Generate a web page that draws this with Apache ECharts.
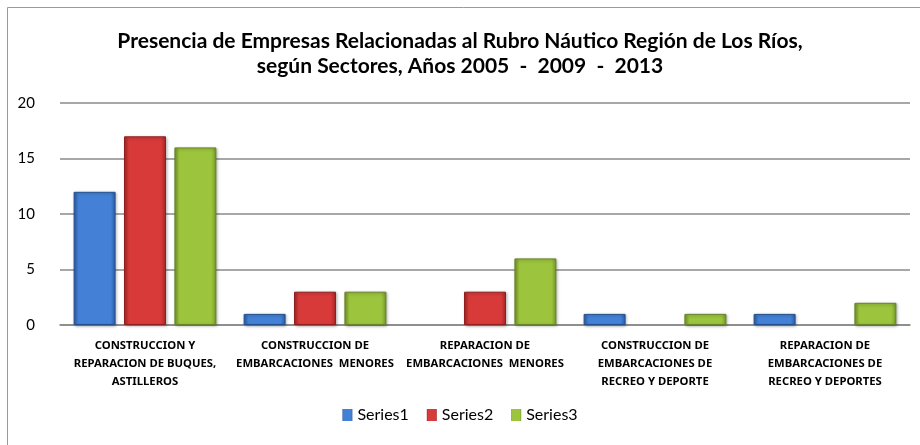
<!DOCTYPE html>
<html>
<head>
<meta charset="utf-8">
<script src="https://cdn.jsdelivr.net/npm/echarts@6/dist/echarts.min.js"></script>
<style>
  html, body { margin: 0; padding: 0; background: #fff; }
  #chart { width: 920px; height: 445px; }
</style>
</head>
<body>
<div id="chart"></div>
<script>
var categories = [
    'CONSTRUCCION Y\nREPARACION DE BUQUES,\nASTILLEROS',
    'CONSTRUCCION DE\nEMBARCACIONES  MENORES',
    'REPARACION DE\nEMBARCACIONES  MENORES',
    'CONSTRUCCION DE\nEMBARCACIONES DE\nRECREO Y DEPORTE',
    'REPARACION DE\nEMBARCACIONES DE\nRECREO Y DEPORTES'
];
var series1 = [12, 1, 0, 1, 1];
var series2 = [17, 3, 3, 0, 0];
var series3 = [16, 3, 6, 1, 2];
var seriesNames = ['Series1', 'Series2', 'Series3'];

var myChart = echarts.init(document.getElementById('chart'));

// bevelled look: dark edges, lighter middle
function bevel(edge, mid) {
    return new echarts.graphic.LinearGradient(0, 0, 1, 0, [
        { offset: 0, color: edge },
        { offset: 0.12, color: mid },
        { offset: 0.88, color: mid },
        { offset: 1, color: edge }
    ]);
}

var colors = [
    { edge: '#2c5ea6', mid: '#4481d6', border: '#24508f' },
    { edge: '#a82626', mid: '#d83a3a', border: '#8f1f1f' },
    { edge: '#77982a', mid: '#9cc43c', border: '#66842a' }
];

function makeSeries(name, data, c) {
    // zero values get no outline so nothing shows on the axis
    var items = data.map(function (v) {
        if (v === 0) {
            return { value: v, itemStyle: { borderWidth: 0, shadowBlur: 0, shadowOffsetX: 0, shadowOffsetY: 0 } };
        }
        return v;
    });
    return {
        name: name,
        type: 'bar',
        data: items,
        barWidth: 42,
        barGap: '20%',
        itemStyle: {
            color: bevel(c.edge, c.mid),
            borderColor: c.border,
            borderWidth: 1,
            shadowColor: 'rgba(0,0,0,0.3)',
            shadowBlur: 3,
            shadowOffsetX: 1,
            shadowOffsetY: 1
        }
    };
}

var option = {
    animation: false,
    title: {
        text: 'Presencia de Empresas Relacionadas al Rubro Náutico Región de Los Ríos,\nsegún Sectores, Años 2005  -  2009  -  2013',
        left: 'center',
        top: 24,
        textStyle: {
            fontFamily: 'Lato',
            fontWeight: 'bold',
            fontSize: 21,
            lineHeight: 25,
            color: '#000'
        }
    },
    legend: {
        bottom: 17,
        left: 'center',
        icon: 'rect',
        itemWidth: 10,
        itemHeight: 12,
        itemGap: 18,
        itemStyle: { shadowBlur: 0, shadowOffsetX: 0, shadowOffsetY: 0, borderWidth: 0 },
        textStyle: {
            fontFamily: 'Lato',
            fontSize: 16,
            color: '#000'
        },
        data: seriesNames
    },
    grid: {
        left: 60,
        right: 10,
        top: 103,
        bottom: 120
    },
    xAxis: {
        type: 'category',
        data: categories,
        axisTick: { show: false },
        axisLine: { lineStyle: { color: '#888', width: 1.5 } },
        axisLabel: {
            interval: 0,
            margin: 12,
            fontFamily: 'Noto Sans',
            fontWeight: 'bold',
            fontSize: 11.3,
            lineHeight: 18,
            color: '#000'
        }
    },
    yAxis: {
        type: 'value',
        min: 0,
        max: 20,
        interval: 5,
        axisLine: { show: false },
        axisTick: { show: false },
        axisLabel: {
            margin: 25,
            fontFamily: 'Lato',
            fontSize: 15,
            color: '#000'
        },
        splitLine: { lineStyle: { color: '#8a8a8a', width: 1.5 } }
    },
    series: [
        makeSeries(seriesNames[0], series1, colors[0]),
        makeSeries(seriesNames[1], series2, colors[1]),
        makeSeries(seriesNames[2], series3, colors[2])
    ],
    graphic: [{
        type: 'polyline',
        shape: { points: [[7.5, 445], [7.5, 7.5], [920, 7.5]] },
        style: { stroke: '#9a9a9a', fill: null, lineWidth: 1 }
    }]
};

myChart.setOption(option);
window.onresize = function () {
    myChart.resize();
};
</script>
</body>
</html>
